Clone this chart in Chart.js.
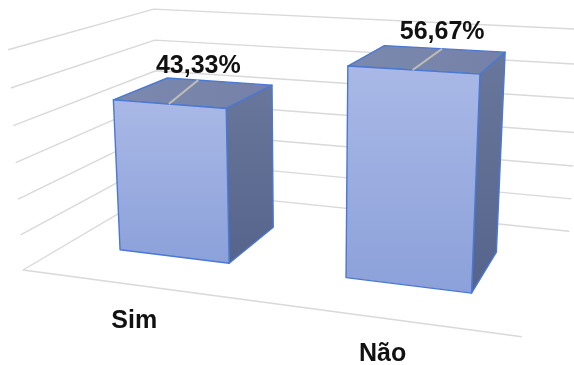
<!DOCTYPE html>
<html>
<head>
<meta charset="utf-8">
<script src="https://cdn.jsdelivr.net/npm/chart.js@4.4.1/dist/chart.umd.min.js"></script>
<style>
  html, body { margin: 0; padding: 0; background: #ffffff; }
  #wrap { width: 574px; height: 365px; position: relative; }
</style>
</head>
<body>
<div id="wrap"><canvas id="chart" width="574" height="365"></canvas></div>
<script>
// Survey answers and their shares (%)
const categories = ['Sim', 'Não'];
const percentages = [43.33, 56.67];
// Value axis gridlines (%), drawn on the side and back walls
const valueTicks = [0, 10, 20, 30, 40, 50, 60];

// Perspective camera for the 3D box: image of the floor's front-left corner
// plus the vanishing point (and weight) of each box axis:
// u = along the categories, w = depth, h = value.
const CAMERA = {
  origin: [23, 270],
  u: { vp: [-3054, -142], k: -0.1395 },
  w: { vp: [743, -155],   k: 0.235 },
  h: { vp: [310, 4500],   k: -0.0495 }
};
// Depth of the columns inside the box (0 = front, 1 = back wall)
const BAR_DEPTH = [0.285, 0.69];

function project(u, w, h) {
  const a = CAMERA.u.k * u, b = CAMERA.w.k * w, c = CAMERA.h.k * h;
  const X = CAMERA.origin[0] + a * CAMERA.u.vp[0] + b * CAMERA.w.vp[0] + c * CAMERA.h.vp[0];
  const Y = CAMERA.origin[1] + a * CAMERA.u.vp[1] + b * CAMERA.w.vp[1] + c * CAMERA.h.vp[1];
  const D = 1 + a + b + c;
  return [X / D, Y / D];
}

function polyPath(ctx, pts) {
  ctx.beginPath();
  ctx.moveTo(pts[0][0], pts[0][1]);
  for (let i = 1; i < pts.length; i++) ctx.lineTo(pts[i][0], pts[i][1]);
  ctx.closePath();
}

function fmtPct(v) {
  return v.toFixed(2).replace('.', ',') + '%';
}

// Normalised box coordinates from the chart's own scales
function boxCoords(chart) {
  const area = chart.chartArea;
  return {
    u: px => (px - area.left) / (area.right - area.left),
    h: py => (area.bottom - py) / (area.bottom - area.top)
  };
}

const box3d = {
  id: 'box3d',
  beforeDatasetsDraw(chart) {
    const ctx = chart.ctx;
    const yScale = chart.scales.y;
    const n = boxCoords(chart);
    ctx.save();
    ctx.strokeStyle = '#d9d9d9';
    ctx.lineWidth = 1.4;
    ctx.lineJoin = 'round';
    // gridlines on the side wall and the back wall
    yScale.ticks.forEach(t => {
      const h = n.h(yScale.getPixelForValue(t.value));
      const p0 = project(0, 0, h), p1 = project(0, 1, h), p2 = project(1, 1, h);
      ctx.beginPath();
      ctx.moveTo(p0[0], p0[1]);
      ctx.lineTo(p1[0], p1[1]);
      ctx.lineTo(p2[0], p2[1]);
      ctx.stroke();
    });
    // front edge of the floor (category axis)
    const f0 = project(0, 0, 0), f1 = project(1, 0, 0);
    ctx.beginPath();
    ctx.moveTo(f0[0], f0[1]);
    ctx.lineTo(f1[0], f1[1]);
    ctx.stroke();
    ctx.restore();
  },
  afterDatasetsDraw(chart) {
    const ctx = chart.ctx;
    const n = boxCoords(chart);
    const meta = chart.getDatasetMeta(0);
    const xScale = chart.scales.x;
    const values = chart.data.datasets[0].data;
    const [w0, w1] = BAR_DEPTH;

    ctx.save();
    meta.data.forEach((bar, i) => {
      const props = bar.getProps(['x', 'y', 'base', 'width'], true);
      const u0 = n.u(props.x - props.width / 2);
      const u1 = n.u(props.x + props.width / 2);
      const h = n.h(props.y);
      const hb = n.h(props.base);

      const fbl = project(u0, w0, hb), fbr = project(u1, w0, hb);
      const ftl = project(u0, w0, h),  ftr = project(u1, w0, h);
      const bbr = project(u1, w1, hb);
      const btl = project(u0, w1, h),  btr = project(u1, w1, h);

      ctx.lineJoin = 'round';
      ctx.strokeStyle = '#4a78d2';
      ctx.lineWidth = 1.4;

      // right side face
      let g = ctx.createLinearGradient(0, Math.min(ftr[1], btr[1]), 0, Math.max(fbr[1], bbr[1]));
      g.addColorStop(0, '#6a779c');
      g.addColorStop(1, '#56638b');
      polyPath(ctx, [fbr, bbr, btr, ftr]);
      ctx.fillStyle = g;
      ctx.fill();
      ctx.stroke();

      // top face
      g = ctx.createLinearGradient(ftl[0], 0, btr[0], 0);
      g.addColorStop(0, '#7c89ae');
      g.addColorStop(1, '#7581a8');
      polyPath(ctx, [ftl, ftr, btr, btl]);
      ctx.fillStyle = g;
      ctx.fill();
      ctx.stroke();

      // front face
      g = ctx.createLinearGradient(0, ftl[1], 0, fbr[1]);
      g.addColorStop(0, '#a9b8e6');
      g.addColorStop(1, '#8ca1da');
      polyPath(ctx, [fbl, fbr, ftr, ftl]);
      ctx.fillStyle = g;
      ctx.fill();
      ctx.stroke();

      // value label with its leader line
      const uc = (u0 + u1) / 2;
      const anchor = project(uc, w0, h);
      const lx = anchor[0] + 29.5;
      const ly = anchor[1] - 31;
      let lo = u0, hi = u1;
      for (let k = 0; k < 40; k++) {
        const mid = (lo + hi) / 2;
        if (project(mid, w1, h)[0] < lx) lo = mid; else hi = mid;
      }
      const lend = project((lo + hi) / 2, w1, h);
      ctx.strokeStyle = 'rgba(196,194,182,0.95)';
      ctx.lineWidth = 2;
      ctx.beginPath();
      ctx.moveTo(anchor[0], anchor[1]);
      ctx.lineTo(lend[0], lend[1]);
      ctx.stroke();

      ctx.fillStyle = '#111111';
      ctx.font = 'bold 25px "Liberation Sans", Arial, sans-serif';
      ctx.textAlign = 'center';
      ctx.textBaseline = 'alphabetic';
      ctx.fillText(fmtPct(values[i]), lx, ly);
    });

    // category labels under the front edge of the floor
    ctx.fillStyle = '#111111';
    ctx.font = 'bold 25px "Liberation Sans", Arial, sans-serif';
    ctx.textAlign = 'center';
    ctx.textBaseline = 'alphabetic';
    chart.data.labels.forEach((lab, i) => {
      const u = n.u(xScale.getPixelForValue(i));
      const p = project(u, 0, 0);
      ctx.fillText(lab, p[0], p[1] + 43);
    });
    ctx.restore();
  }
};

new Chart(document.getElementById('chart'), {
  type: 'bar',
  data: {
    labels: categories,
    datasets: [{
      data: percentages,
      backgroundColor: 'rgba(0,0,0,0)',
      borderWidth: 0,
      categoryPercentage: 1.0,
      barPercentage: 0.5
    }]
  },
  options: {
    responsive: false,
    animation: false,
    events: [],
    layout: { padding: 0 },
    plugins: { legend: { display: false }, tooltip: { enabled: false } },
    scales: {
      x: { type: 'category', display: false, offset: true },
      y: {
        display: false,
        min: valueTicks[0],
        max: valueTicks[valueTicks.length - 1],
        ticks: { stepSize: valueTicks[1] - valueTicks[0] }
      }
    }
  },
  plugins: [box3d]
});
</script>
</body>
</html>
